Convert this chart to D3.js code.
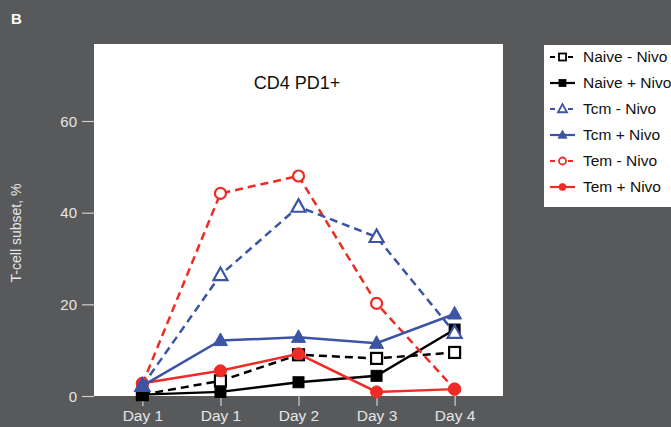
<!DOCTYPE html>
<html><head><meta charset="utf-8">
<script src="https://cdn.jsdelivr.net/npm/d3@7"></script>
<style>html,body{margin:0;padding:0;background:#58595b;}svg{display:block;}</style>
</head><body>
<svg id="c" width="671" height="427"></svg>
<script>
const categories = ["Day 1","Day 1","Day 2","Day 3","Day 4"];
const yTicks = [0,20,40,60];
const seriesNames = ["Naive - Nivo","Naive + Nivo","Tcm - Nivo","Tcm + Nivo","Tem - Nivo","Tem + Nivo"];
const naiveMinus = [0.3, 3.3, 9.0, 8.2, 9.5];
const naivePlus  = [0.3, 0.9, 3.0, 4.4, 14.5];
const tcmMinus   = [2.2, 26.4, 41.3, 34.7, 13.8];
const tcmPlus    = [2.2, 12.1, 12.8, 11.5, 17.9];
const temMinus   = [2.6, 44.2, 48.0, 20.2, 1.5];
const temPlus    = [2.8, 5.5, 9.2, 0.9, 1.5];

const RED="#ee2b24", BLUE="#3c54a5", BLACK="#000";
const styles = {
  "Naive - Nivo":{color:BLACK,dash:true,shape:"square",filled:false,data:naiveMinus},
  "Naive + Nivo":{color:BLACK,dash:false,shape:"square",filled:true,data:naivePlus},
  "Tcm - Nivo":{color:BLUE,dash:true,shape:"triangle",filled:false,data:tcmMinus},
  "Tcm + Nivo":{color:BLUE,dash:false,shape:"triangle",filled:true,data:tcmPlus},
  "Tem - Nivo":{color:RED,dash:true,shape:"circle",filled:false,data:temMinus},
  "Tem + Nivo":{color:RED,dash:false,shape:"circle",filled:true,data:temPlus}
};
const drawOrder = ["Naive - Nivo","Naive + Nivo","Tem - Nivo","Tem + Nivo","Tcm - Nivo","Tcm + Nivo"];

const svg = d3.select("#c");
const L=94,R=503,T=44,B=396;
svg.append("rect").attr("x",L).attr("y",T).attr("width",R-L).attr("height",B-T).attr("fill","#fff");

const x = d3.scalePoint().domain(d3.range(categories.length)).range([L,R]).padding(0.62);
const y = d3.scaleLinear().domain([0,76.8]).range([B,T]);

const TXT="#e6e6e6", FONT="'Liberation Sans', Arial, sans-serif";

// y axis
const ya = svg.append("g").attr("transform",`translate(${L},0)`)
  .call(d3.axisLeft(y).tickValues(yTicks).tickSize(12).tickPadding(5).tickFormat(d3.format("d")));
ya.select(".domain").remove();
ya.selectAll("line").attr("stroke","#d0d0d0").attr("stroke-width",1.2);
ya.selectAll("text").attr("fill",TXT).style("font-family",FONT).style("font-size","15px").attr("dy","0.35em");

// x axis
const xa = svg.append("g").attr("transform",`translate(0,${B})`)
  .call(d3.axisBottom(x).tickSize(10).tickPadding(4).tickFormat(i=>categories[i]));
xa.select(".domain").remove();
xa.selectAll("line").attr("stroke","#d0d0d0").attr("stroke-width",1.2);
xa.selectAll("text").attr("fill",TXT).style("font-family",FONT).style("font-size","15.5px").attr("dy","0.72em");

// labels
svg.append("text").attr("x",11).attr("y",24).text("B").attr("fill","#fff")
  .style("font-family",FONT).style("font-size","15px").style("font-weight","bold");
svg.append("text").attr("transform","translate(21,233) rotate(-90)").attr("text-anchor","middle")
  .text("T-cell subset, %").attr("fill",TXT).style("font-family",FONT).style("font-size","14px");
svg.append("text").attr("x",297).attr("y",89).attr("text-anchor","middle").text("CD4 PD1+")
  .attr("fill","#111").style("font-family",FONT).style("font-size","18px");

function marker(g, shape, cx, cy, s, color, filled, sw){
  let el;
  if(shape==="circle"){
    el=g.append("circle").attr("cx",cx).attr("cy",cy).attr("r",s/2);
  } else if(shape==="square"){
    el=g.append("rect").attr("x",cx-s/2).attr("y",cy-s/2).attr("width",s).attr("height",s);
  } else {
    const h=s*0.9;
    el=g.append("path").attr("d",`M${cx},${cy-h*0.6}L${cx+s/2},${cy+h*0.4}L${cx-s/2},${cy+h*0.4}Z`);
  }
  el.attr("fill",filled?color:"#fff").attr("stroke",color).attr("stroke-width",sw);
}

const line = d3.line().x((d,i)=>x(i)).y(d=>y(d));
const plot = svg.append("g");
drawOrder.forEach(name=>{
  const s=styles[name];
  const g=plot.append("g");
  g.append("path").datum(s.data).attr("d",line).attr("fill","none").attr("stroke",s.color)
    .attr("stroke-width",2.5).attr("stroke-dasharray",s.dash?"8,5":null);
  s.data.forEach((v,i)=>{
    const size = s.shape==="circle" ? (s.filled?12:11) : s.shape==="square" ? 11 : 14;
    marker(g,s.shape,x(i),y(v),size,s.color,s.filled,s.filled?1:2.2);
  });
});

// legend
const lg = svg.append("g");
lg.append("rect").attr("x",544).attr("y",45).attr("width",140).attr("height",162).attr("fill","#fff");
seriesNames.forEach((name,k)=>{
  const s=styles[name];
  const cy=57+k*26;
  const g=lg.append("g");
  g.append("line").attr("x1",550).attr("x2",575).attr("y1",cy).attr("y2",cy)
    .attr("stroke",s.color).attr("stroke-width",2.2).attr("stroke-dasharray",s.dash?"5,4":null);
  const sz = s.shape==="triangle"?9:7;
  marker(g,s.shape,562.5,cy,sz,s.color,s.filled,s.filled?0.8:1.8);
  g.append("text").attr("x",583).attr("y",cy).attr("dy","0.35em").text(name)
    .attr("fill","#111").style("font-family",FONT).style("font-size","15.5px");
});
</script>
</body></html>
